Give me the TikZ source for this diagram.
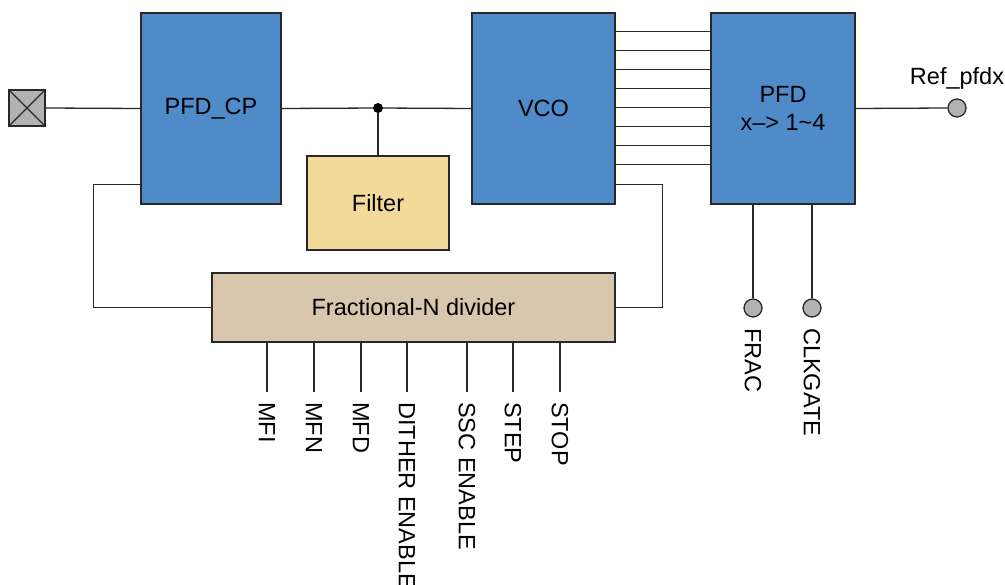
\documentclass[tikz,border=0pt]{standalone}
\usepackage{fontspec}
\setmainfont{Liberation Sans}
\usetikzlibrary{positioning,calc}
\definecolor{BlockBlue}{RGB}{79,139,201}
\definecolor{FilterSand}{RGB}{243,218,154}
\definecolor{DivTan}{RGB}{216,198,173}
\definecolor{PortGray}{RGB}{178,178,178}
\definecolor{EdgeGray}{RGB}{40,40,40}
\tikzset{
  blk/.style={draw=EdgeGray,line width=1.3pt,inner sep=0pt,font=\fontsize{23.5}{28}\selectfont,align=center},
  pin/.style={circle,draw=EdgeGray,line width=1.3pt,fill=PortGray,minimum size=18pt,inner sep=0pt},
  sig/.style={rotate=-90,anchor=west,inner xsep=10pt,inner ysep=0pt,font=\fontsize{23.5}{28}\selectfont},
  wire/.style={line width=1.3pt,draw=EdgeGray},
}

\begin{document}
\begin{tikzpicture}[x=1pt,y=-1pt]
      \useasboundingbox (0,0) rectangle (1005,585);
      \node[draw=EdgeGray,line width=1.3pt,fill=PortGray,minimum size=36pt,inner sep=0pt] (port) at (27,108) {};
      \draw[wire] (port.north west) -- (port.south east) (port.north east) -- (port.south west);
      \node[blk,fill=BlockBlue,minimum width=140pt,minimum height=191pt] (pfdcp) at (211,108.5) {PFD\_CP};
      \node[blk,fill=FilterSand,minimum width=142pt,minimum height=94pt] (filter) at (378,203) {Filter};
      \node[blk,fill=BlockBlue,minimum width=143pt,minimum height=191pt] (vco) at (543.5,108.5) {VCO};
      \node[blk,fill=BlockBlue,minimum width=144pt,minimum height=191pt] (pfd) at (783,108.5) {PFD\\x–> 1\textasciitilde 4};
      \node[blk,fill=DivTan,minimum width=403pt,minimum height=69pt] (div) at (413.5,307.5) {Fractional-N divider};
      \node[circle,fill=black,minimum size=10pt,inner sep=0pt] (tap) at (378,108) {};
      \node[pin] (ref) at (957,108) {};
      \node[font=\fontsize{23.5}{28}\selectfont,above=5pt of ref] (reflbl) {Ref\_pfdx};
      \draw[wire] (port.east) -- (pfdcp.west);
      \draw[wire] (pfdcp.east) -- (tap) -- (vco.west);
      \draw[wire] (tap) -- (filter.north);
      \draw[wire] (pfd.east) -- (ref.west);
      \foreach \i in {0,...,7}
        \draw[wire] ([yshift={-(19.3+19*\i)*1pt}]vco.north east) -- ([yshift={-(19.3+19*\i)*1pt}]pfd.north west);
      \draw[wire] ([yshift=20pt]vco.south east) -- ++(47,0) |- (div.east);
      \draw[wire] ([yshift=20pt]pfdcp.south west) -- ++(-47,0) |- (div.west);
      % divider control inputs
      \foreach \x/\nm/\txt in {267/mfi/MFI,314/mfn/MFN,361/mfd/MFD,407/dith/DITHER ENABLE,467/ssc/SSC ENABLE,513/stp/STEP,560/stop/STOP}{
        \node[sig] (\nm) at (\x,392) {\txt};
        \draw[wire] (div.south -| \nm.west) -- (\nm.west);
      }
      % pfd control pins
      \node[pin] (frac) at (753,308) {};
      \node[pin] (clkg) at (812,308) {};
      \draw[wire] (pfd.south -| frac) -- (frac.north);
      \draw[wire] (pfd.south -| clkg) -- (clkg.north);
      \node[sig,inner xsep=0pt] (fraclbl) at (753,328) {FRAC};
      \node[sig,inner xsep=0pt] (clkglbl) at (812,328) {CLKGATE};
\end{tikzpicture}
\end{document}
